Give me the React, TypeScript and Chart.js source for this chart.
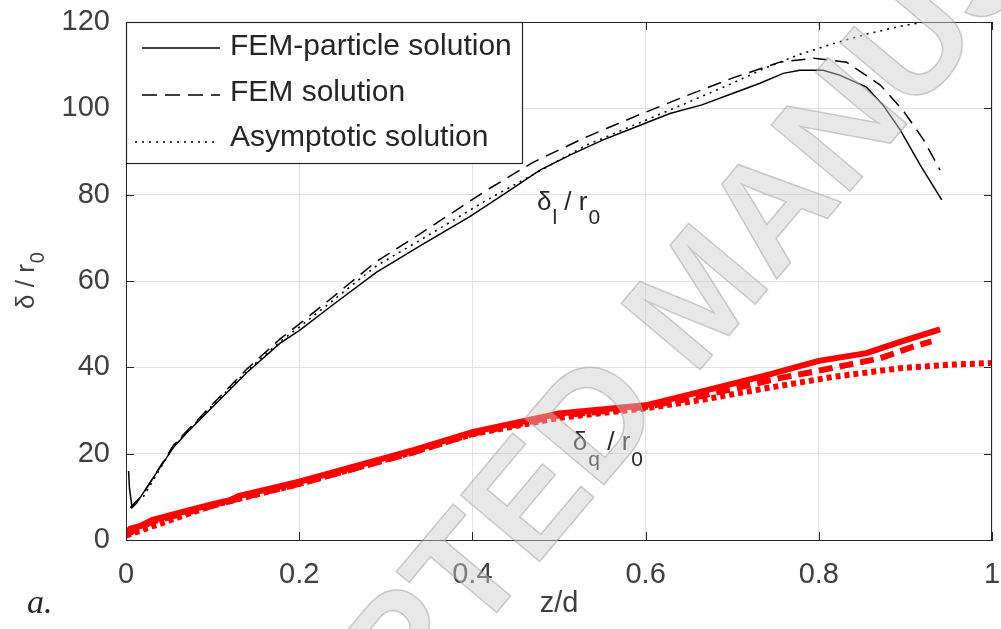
import React, { useEffect, useRef } from "react";
import { Chart, registerables } from "chart.js";

Chart.register(...registerables);

// ---------- data ----------
const xTicks = [0, 0.2, 0.4, 0.6, 0.8, 1];
const xTickLabels = ["0", "0.2", "0.4", "0.6", "0.8", "1"];
const yTicks = [0, 20, 40, 60, 80, 100, 120];
const yTickLabels = ["0", "20", "40", "60", "80", "100", "120"];

const legendLabels = ["FEM-particle solution", "FEM solution", "Asymptotic solution"];

// delta_l / r0 (black)
const lPartX = [0.003, 0.004, 0.007, 0.012, 0.025, 0.055, 0.07, 0.093, 0.139, 0.178, 0.2, 0.239, 0.289, 0.34, 0.397, 0.44, 0.478, 0.515, 0.551, 0.59, 0.628, 0.665, 0.701, 0.732, 0.759, 0.778, 0.805, 0.824, 0.855, 0.874, 0.894, 0.917, 0.942];
const lPartY = [16, 12, 7.5, 8.5, 12.5, 21.5, 24.8, 29.4, 38.7, 45.6, 48.5, 54.5, 62, 68.2, 74.9, 80.6, 85.7, 89.4, 92.7, 95.8, 98.8, 100.8, 103.5, 105.8, 108.1, 108.8, 108.8, 107.7, 104.9, 100.8, 95, 86.9, 78.8];

const lFemX = [0.005, 0.018, 0.03, 0.055, 0.07, 0.093, 0.139, 0.178, 0.2, 0.239, 0.289, 0.34, 0.417, 0.47, 0.532, 0.59, 0.647, 0.7, 0.755, 0.794, 0.832, 0.871, 0.897, 0.921, 0.94];
const lFemY = [7.5, 10.2, 14, 22, 25.2, 30, 39.5, 46.6, 50, 56.3, 64.5, 71, 81.1, 87.5, 93.4, 98.3, 102.9, 107, 110.7, 111.6, 110.7, 105.4, 99.6, 92.7, 85.7];

const lAsyX = [0.02, 0.055, 0.093, 0.139, 0.178, 0.2, 0.239, 0.289, 0.34, 0.417, 0.532, 0.647, 0.7, 0.74, 0.778, 0.817, 0.855, 0.894, 0.93, 1.0];
const lAsyY = [10, 21.8, 29.8, 39, 46, 49.3, 55.5, 63.5, 69.5, 78.8, 91.5, 101.2, 105.8, 109.5, 112.5, 115, 117.2, 119, 120.3, 122.5];

// delta_q / r0 (red)
const qPartX = [0.0, 0.005, 0.016, 0.03, 0.06, 0.1, 0.12, 0.13, 0.2, 0.332, 0.4, 0.5, 0.6, 0.663, 0.74, 0.8, 0.855, 0.894, 0.94];
const qPartY = [1.5, 2.6, 3.2, 4.6, 6.2, 8.3, 9.2, 10.2, 13.5, 20.8, 25, 29.3, 31.2, 34.3, 38.2, 41.5, 43.3, 45.9, 48.8];

const qFemX = [0.0, 0.016, 0.03, 0.06, 0.1, 0.13, 0.2, 0.332, 0.4, 0.5, 0.6, 0.663, 0.755, 0.794, 0.832, 0.871, 0.909, 0.93];
const qFemY = [1.2, 2.8, 4.2, 5.8, 7.9, 9.6, 13.0, 20.3, 24.6, 28.8, 30.8, 33.3, 37.5, 39.0, 40.5, 42.1, 44.8, 46.0];

const qAsyX = [0.0, 0.1, 0.2, 0.33, 0.4, 0.5, 0.6, 0.663, 0.74, 0.817, 0.894, 0.95, 1.0];
const qAsyY = [1.0, 8.0, 13.0, 20.3, 24.5, 28.3, 30.5, 32.4, 35.2, 37.8, 39.8, 40.6, 41.0];

// text annotations anchored in data coordinates
const labelL = { x: 0.4746, y: 76.4, main: "δ", sub: "l", rest: " / r", sub2: "0" };
const labelQ = { x: 0.516, y: 20.85, main: "δ", sub: "q", rest: " / r", sub2: "0" };

const FONT = "'Liberation Sans', Arial, Helvetica, sans-serif";
const INK = "#262626";
const TICK_INK = "#404040";

function pts(xs: number[], ys: number[]) {
  return xs.map((x, i) => ({ x, y: ys[i] }));
}

const SOLID: number[] = [];
const DASH = [14, 8];
const DOT = [2, 5];

const zeroPad = (s: any) => {
  s.paddingTop = 0;
  s.paddingBottom = 0;
  s.paddingLeft = 0;
  s.paddingRight = 0;
};

const overlayPlugin = {
  id: "overlay",
  afterDraw(chart: any) {
    const { ctx, chartArea: a, scales } = chart;
    const xs = scales.x;
    const ys = scales.y;
    ctx.save();

    // box frame + inward ticks
    ctx.strokeStyle = INK;
    ctx.lineWidth = 1;
    ctx.setLineDash([]);
    ctx.strokeRect(a.left + 0.5, a.top + 0.5, a.right - a.left - 1, a.bottom - a.top);
    const tl = 8;
    ctx.beginPath();
    xTicks.forEach((v) => {
      const px = Math.round(xs.getPixelForValue(v)) + 0.5;
      ctx.moveTo(px, a.bottom);
      ctx.lineTo(px, a.bottom - tl);
      ctx.moveTo(px, a.top);
      ctx.lineTo(px, a.top + tl);
    });
    yTicks.forEach((v) => {
      const py = Math.round(ys.getPixelForValue(v)) + 0.5;
      ctx.moveTo(a.left, py);
      ctx.lineTo(a.left + tl, py);
      ctx.moveTo(a.right, py);
      ctx.lineTo(a.right - tl, py);
    });
    ctx.stroke();

    // legend box
    const lx = a.left + 0.5;
    const ly = a.top + 0.5;
    const lw = 396;
    const lh = 141;
    ctx.fillStyle = "#ffffff";
    ctx.fillRect(lx, ly, lw, lh);
    ctx.strokeStyle = INK;
    ctx.lineWidth = 1.2;
    ctx.strokeRect(lx, ly, lw, lh);
    const rows = [
      { y: 26, dash: SOLID, x0: 16, x1: 94 },
      { y: 73, dash: [15, 8], x0: 16, x1: 94 },
      { y: 120, dash: DOT, x0: 9, x1: 90 },
    ];
    rows.forEach((r, i) => {
      ctx.beginPath();
      ctx.setLineDash(r.dash);
      ctx.lineWidth = 1.6;
      ctx.strokeStyle = "#000";
      ctx.moveTo(a.left + r.x0, a.top + r.y);
      ctx.lineTo(a.left + r.x1, a.top + r.y);
      ctx.stroke();
      ctx.setLineDash([]);
      ctx.fillStyle = INK;
      ctx.font = `30px ${FONT}`;
      ctx.textAlign = "left";
      ctx.textBaseline = "middle";
      ctx.fillText(legendLabels[i], a.left + 104, a.top + r.y - 1 - i * 1.5);
    });

    // in-plot labels
    const drawLabel = (lab: any, subOff: number) => {
      let px = xs.getPixelForValue(lab.x);
      const py = ys.getPixelForValue(lab.y);
      ctx.fillStyle = INK;
      ctx.textAlign = "left";
      ctx.textBaseline = "alphabetic";
      ctx.font = `26px ${FONT}`;
      ctx.fillText(lab.main, px, py);
      px += ctx.measureText(lab.main).width + 1;
      ctx.font = `21px ${FONT}`;
      ctx.fillText(lab.sub, px, py + subOff);
      px += ctx.measureText(lab.sub).width;
      ctx.font = `26px ${FONT}`;
      ctx.fillText(lab.rest, px, py);
      px += ctx.measureText(lab.rest).width + 1;
      ctx.font = `21px ${FONT}`;
      ctx.fillText(lab.sub2, px, py + subOff);
    };
    drawLabel(labelL, 14);
    drawLabel(labelQ, 16);

    // y axis title: δ / r0
    ctx.save();
    ctx.translate(34, 281);
    ctx.rotate(-Math.PI / 2);
    ctx.fillStyle = TICK_INK;
    ctx.textAlign = "left";
    ctx.textBaseline = "alphabetic";
    ctx.font = `26px ${FONT}`;
    const yMain = "δ / r";
    const w1 = ctx.measureText(yMain).width;
    ctx.font = `20px ${FONT}`;
    const w2 = ctx.measureText("0").width;
    const start = -(w1 + w2) / 2;
    ctx.font = `26px ${FONT}`;
    ctx.fillText(yMain, start, 0);
    ctx.font = `20px ${FONT}`;
    ctx.fillText("0", start + w1 + 1, 10);
    ctx.restore();

    // panel tag
    ctx.fillStyle = INK;
    ctx.font = `italic 34px 'Liberation Serif', 'Times New Roman', serif`;
    ctx.textAlign = "left";
    ctx.textBaseline = "alphabetic";
    ctx.fillText("a.", 27, 613);

    // watermark
    ctx.save();
    ctx.translate(705, 300);
    ctx.rotate((-50 * Math.PI) / 180);
    ctx.font = `bold 150px ${FONT}`;
    ctx.textAlign = "center";
    ctx.textBaseline = "middle";
    ctx.fillStyle = "rgba(205,205,205,0.45)";
    ctx.fillText("ACCEPTED MANUSCRIPT", 0, 0);
    ctx.strokeStyle = "rgba(160,160,160,0.5)";
    ctx.lineWidth = 1.5;
    ctx.strokeText("ACCEPTED MANUSCRIPT", 0, 0);
    ctx.restore();

    ctx.restore();
  },
};

export default function App() {
  const ref = useRef<HTMLCanvasElement | null>(null);

  useEffect(() => {
    const canvas = ref.current;
    if (!canvas) return;
    const black = "#000000";
    const red = "#ff0000";
    const ds = (data: any, color: string, width: number, dash: number[], label: string) => ({
      label,
      data,
      borderColor: color,
      backgroundColor: color,
      borderWidth: width,
      borderDash: dash,
      pointRadius: 0,
      pointHoverRadius: 0,
      tension: 0,
      fill: false,
    });
    const chart = new Chart(canvas, {
      type: "line",
      data: {
        datasets: [
          ds(pts(qAsyX, qAsyY), red, 6, [5, 4], legendLabels[2]),
          ds(pts(qFemX, qFemY), red, 6, [14, 7], legendLabels[1]),
          ds(pts(qPartX, qPartY), red, 6, SOLID, legendLabels[0]),
          ds(pts(lAsyX, lAsyY), black, 1.6, DOT, legendLabels[2]),
          ds(pts(lFemX, lFemY), black, 1.5, DASH, legendLabels[1]),
          ds(pts(lPartX, lPartY), black, 1.5, SOLID, legendLabels[0]),
        ],
      },
      options: {
        animation: false,
        responsive: false,
        maintainAspectRatio: false,
        parsing: false as any,
        normalized: true,
        layout: { padding: { top: 22, right: 9, left: 0, bottom: 0 } },
        plugins: {
          legend: { display: false },
          tooltip: { enabled: false },
        },
        scales: {
          x: {
            type: "linear",
            min: 0,
            max: 1,
            afterFit: (s: any) => {
              s.height = 89;
              zeroPad(s);
            },
            afterBuildTicks: (s: any) => {
              s.ticks = xTicks.map((v) => ({ value: v }));
            },
            ticks: {
              color: TICK_INK,
              font: { family: FONT, size: 29 },
              padding: 18,
              maxRotation: 0,
              autoSkip: false,
              callback: (_v: any, i: number) => xTickLabels[i],
            },
            grid: { color: "#e2e2e2", lineWidth: 1, drawTicks: false },
            border: { display: true, color: INK, width: 1 },
            title: {
              display: true,
              text: "z/d",
              color: TICK_INK,
              font: { family: FONT, size: 29 },
              padding: { top: 0, bottom: 8 },
            },
          },
          y: {
            type: "linear",
            min: 0,
            max: 120,
            afterFit: (s: any) => {
              s.width = 126;
              zeroPad(s);
            },
            afterBuildTicks: (s: any) => {
              s.ticks = yTicks.map((v) => ({ value: v }));
            },
            ticks: {
              color: TICK_INK,
              font: { family: FONT, size: 29 },
              padding: 16,
              autoSkip: false,
              callback: (_v: any, i: number) => yTickLabels[i],
            },
            grid: { color: "#e2e2e2", lineWidth: 1, drawTicks: false },
            border: { display: true, color: INK, width: 1 },
          },
        },
      },
      plugins: [overlayPlugin],
    });
    return () => chart.destroy();
  }, []);

  return (
    <div style={{ position: "fixed", left: 0, top: 0, width: 1001, height: 629, background: "#fff" }}>
      <canvas ref={ref} width={1001} height={629} style={{ display: "block", width: 1001, height: 629 }} />
    </div>
  );
}
